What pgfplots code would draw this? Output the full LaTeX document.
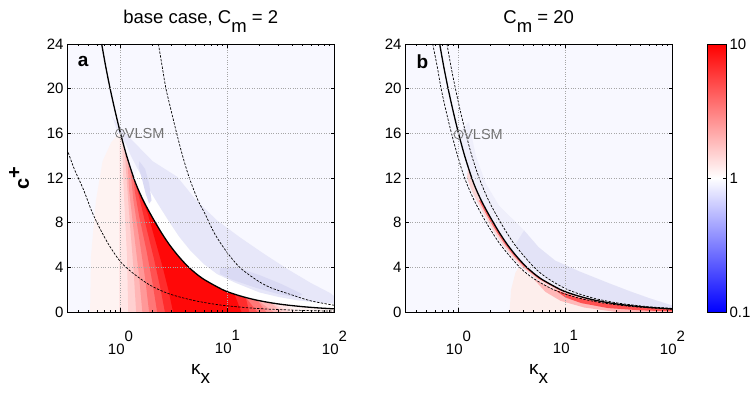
\documentclass[border=0pt]{standalone}
\usepackage{fontspec}
\setmainfont{Liberation Sans}
\usepackage{pgfplots}
\pgfplotsset{compat=1.18}
\definecolor{bgc}{HTML}{F8F8FF}
\definecolor{r0}{HTML}{FEF3F2}
\definecolor{l1}{HTML}{FFE6E6}
\definecolor{l2}{HTML}{FFD0D0}
\definecolor{l3}{HTML}{FFB6B6}
\definecolor{l4}{HTML}{FF9898}
\definecolor{l5}{HTML}{FF7777}
\definecolor{l6}{HTML}{FF5252}
\definecolor{l7}{HTML}{FF2C2C}
\definecolor{l8}{HTML}{FF0808}
\definecolor{b1}{HTML}{E7E7F9}
\definecolor{b2}{HTML}{DADAF4}
\definecolor{bb1}{HTML}{EFEFFB}
\definecolor{bb2}{HTML}{E3E3F7}
\definecolor{pb}{HTML}{FDEEEC}
\definecolor{rb1}{HTML}{FBD5D5}
\definecolor{rb2}{HTML}{FF6A6A}
\definecolor{rb3}{HTML}{FFB8B8}
\definecolor{rb4}{HTML}{FF5050}
\tikzset{curveS/.style={black, line width=1.3pt, smooth},
  curveD/.style={black, line width=0.7pt, dash pattern=on 2.4pt off 1.4pt, smooth}}
\pgfplotsset{mypanel/.style={
  anchor=south west, scale only axis, width=267.5pt, height=268pt,
  xmin=0.316228, xmax=100, ymin=0, ymax=24,
  xtick={1,10,100},
  xticklabels={10\raisebox{13pt}{0},10\raisebox{13pt}{1},10\raisebox{13pt}{2}},
  minor xtick={0.4,0.5,0.6,0.7,0.8,0.9,2,3,4,5,6,7,8,9,20,30,40,50,60,70,80,90},
  ytick={0,4,...,24},
  /pgf/number format/assume math mode=true,
  tick align=inside, major tick length=4pt, minor tick length=2.2pt,
  grid=major, major grid style={black!35, dotted, line width=0.5pt},
  axis background/.style={fill=bgc},
  axis on top,
  tick style={black, line width=0.5pt},
  axis line style={line width=0.6pt},
  ticklabel style={font=\fontsize{15}{17}\selectfont},
  xticklabel style={yshift=-15pt},
}}
\begin{document}
\begin{tikzpicture}
\path[use as bounding box] (0pt,0pt) rectangle (751pt,393pt);
% ---------------- panel a ----------------
\begin{semilogxaxis}[mypanel, at={(67pt,81pt)}]
\addplot[fill=r0, draw=none] coordinates {(0.52,0) (0.53,5) (0.59,10) (0.68,13.5) (0.82,15.2) (0.95,15.9) (1.0,16) (1.14,14) (1.33,12) (1.46,11) (1.63,10) (1.85,9) (2.12,8) (2.45,7) (2.88,6) (3.48,5) (4.35,4) (5.85,3) (9.0,2) (11.6,1.6) (14.8,1.3) (19.0,1.05) (25.6,0.82) (34,0.65) (50,0.48) (72,0.36) (100,0.28) (100,0)} -- cycle;
\addplot[fill=l1, draw=none] coordinates {(0.97,0) (0.97,10) (0.98,15.6) (1.0,16) (1.14,14) (1.33,12) (1.46,11) (1.63,10) (1.85,9) (2.12,8) (2.45,7) (2.88,6) (3.48,5) (4.35,4) (5.85,3) (9.0,2) (11.6,1.6) (14.8,1.3) (19.0,1.05) (25.6,0.82) (34,0.65) (45,0)} -- cycle;
\addplot[fill=l2, draw=none] coordinates {(1.18,0) (1.15,5) (1.07,11) (1.04,14.8) (1.14,14) (1.33,12) (1.46,11) (1.63,10) (1.85,9) (2.12,8) (2.45,7) (2.88,6) (3.48,5) (4.35,4) (5.85,3) (9.0,2) (11.6,1.6) (14.8,1.3) (19.0,1.05) (25.6,0.82) (38,0)} -- cycle;
\addplot[fill=l3, draw=none] coordinates {(1.4,0) (1.32,4) (1.2,9) (1.12,13) (1.1,14.2) (1.14,14) (1.33,12) (1.46,11) (1.63,10) (1.85,9) (2.12,8) (2.45,7) (2.88,6) (3.48,5) (4.35,4) (5.85,3) (9.0,2) (11.6,1.6) (14.8,1.3) (19.0,1.05) (25.6,0.82) (32,0)} -- cycle;
\addplot[fill=l4, draw=none] coordinates {(1.6,0) (1.48,3.5) (1.32,7.5) (1.2,11) (1.17,13.2) (1.33,12) (1.46,11) (1.63,10) (1.85,9) (2.12,8) (2.45,7) (2.88,6) (3.48,5) (4.35,4) (5.85,3) (9.0,2) (11.6,1.6) (14.8,1.3) (19.0,1.05) (27,0)} -- cycle;
\addplot[fill=l5, draw=none] coordinates {(1.85,0) (1.7,3) (1.5,6.5) (1.32,10) (1.25,12.3) (1.33,12) (1.46,11) (1.63,10) (1.85,9) (2.12,8) (2.45,7) (2.88,6) (3.48,5) (4.35,4) (5.85,3) (9.0,2) (11.6,1.6) (14.8,1.3) (19.0,1.05) (23,0)} -- cycle;
\addplot[fill=l6, draw=none] coordinates {(2.2,0) (2.0,2.5) (1.75,5.5) (1.5,8.5) (1.36,10.8) (1.33,11.9) (1.46,11) (1.63,10) (1.85,9) (2.12,8) (2.45,7) (2.88,6) (3.48,5) (4.35,4) (5.85,3) (9.0,2) (11.6,1.6) (14.8,1.3) (19,0)} -- cycle;
\addplot[fill=l7, draw=none] coordinates {(2.6,0) (2.35,2.2) (2.05,4.8) (1.75,7.5) (1.52,10) (1.41,11.2) (1.46,11) (1.63,10) (1.85,9) (2.12,8) (2.45,7) (2.88,6) (3.48,5) (4.35,4) (5.85,3) (9.0,2) (11.6,1.6) (14.8,1.3) (16,0)} -- cycle;
\addplot[fill=l8, draw=none] coordinates {(3.1,0) (2.8,2) (2.45,4.2) (2.1,6.5) (1.8,8.8) (1.5,10.6) (1.63,10) (1.85,9) (2.12,8) (2.45,7) (2.88,6) (3.48,5) (4.35,4) (5.85,3) (9.0,2) (11.6,1.6) (13.5,0)} -- cycle;
\addplot[fill=white, draw=none] coordinates {(1.45,12.8) (1.75,11.4) (2.2,9.8) (2.8,8.2) (3.5,6.8) (4.5,5.5) (6,4.3) (8,3.4) (12,2.6) (20,1.75) (30,1.35) (45,1.05) (70,0.85) (100,0.75) (100,0.28) (72,0.36) (50,0.48) (34,0.65) (25.6,0.82) (19.0,1.05) (14.8,1.3) (11.6,1.6) (9.0,2) (5.85,3) (4.35,4) (3.48,5) (2.88,6) (2.45,7) (2.12,8) (1.85,9) (1.63,10) (1.46,11) (1.33,12)} -- cycle;
\addplot[fill=b1, draw=none] coordinates {(0.82,17.6) (1.06,16.2) (2.0,13.5) (3.4,12.1) (5.1,10) (8,8.2) (13,6.7) (22,5.2) (37,3.8) (60,2.6) (91,1.7) (100,1.4) (100,0.75) (70,0.85) (45,1.05) (30,1.35) (20,1.75) (12,2.6) (8,3.4) (6,4.3) (4.5,5.5) (3.5,6.8) (2.8,8.2) (2.2,9.8) (1.75,11.4) (1.45,12.8) (1.25,14) (1.13,15) (1.02,15.6) (0.92,16.4) (0.86,17.2)} -- cycle;
\addplot[fill=b2, draw=none] coordinates {(1.5,13.5) (1.7,12.8) (1.85,11.5) (1.95,10) (1.85,9.7) (1.72,10.6) (1.6,11.8) (1.48,13)} -- cycle;
\addplot[fill=b2, draw=none] coordinates {(8.5,3.9) (12,4.0) (20,3.3) (32,2.5) (50,1.6) (45,1.3) (30,1.6) (18,2.2) (11,2.9) (8.5,3.4)} -- cycle;
% curves
\addplot[curveD] coordinates {(0.316,14.6) (0.37,12.8) (0.449,11.0) (0.54,9.0) (0.64,7.5) (0.78,6.0) (1.0,4.5) (1.3,3.5) (1.89,2.4) (2.8,1.65) (4.5,1.1) (7,0.75) (10,0.55) (20,0.3) (50,0.14) (100,0.08)};
\addplot[curveD] coordinates {(2.26,24) (2.45,22) (2.66,20) (2.98,18) (3.35,16) (3.8,14) (4.4,12) (5.3,10) (6.16,8.8) (7.6,7) (9.8,5.4) (13,4) (18.7,2.86) (25,2.2) (38,1.6) (60,1.0) (100,0.6)};
\addplot[curveS] coordinates {(0.667,24) (0.727,22) (0.80,20) (0.89,18) (1.0,16) (1.14,14) (1.33,12) (1.46,11) (1.63,10) (1.85,9) (2.12,8) (2.45,7) (2.88,6) (3.48,5) (4.35,4) (5.85,3) (9.0,2) (11.6,1.6) (14.8,1.3) (19.0,1.05) (25.6,0.82) (34,0.65) (50,0.48) (72,0.36) (100,0.28)};
\addplot[only marks, mark=o, mark size=4.5pt, black!55, mark options={line width=0.8pt}] coordinates {(0.99,16)};
\node[anchor=west, text=black!55, font=\fontsize{14.5}{14.5}\selectfont, inner sep=1pt] at (axis cs:1.07,16) {VLSM};
\node[font=\bfseries\fontsize{19}{19}\selectfont] at (rel axis cs:0.06,0.933) {a};
\end{semilogxaxis}
% ---------------- panel b ----------------
\begin{semilogxaxis}[mypanel, at={(405pt,81pt)}]
\addplot[fill=pb, draw=none] coordinates {(3.0,0) (3.1,2) (3.4,3.5) (3.66,4) (4.99,3) (7.9,2) (12.9,1.3) (22.4,0.82) (30,0)} -- cycle;
\addplot[fill=bb1, draw=none] coordinates {(1.0,16) (1.14,14) (1.33,12) (1.46,11) (1.63,10) (1.85,9) (2.12,8) (2.45,7) (2.88,6) (3.48,5) (4.35,4) (5.85,3) (9.0,2) (11.6,1.6) (14.8,1.3) (19.0,1.05) (25.6,0.82) (34,0.65) (50,0.48) (72,0.36) (100,0.28) (100,0.6) (94,0.65) (60,1.25) (40,1.85) (25,2.6) (13.7,3.6) (8,4.6) (5.6,5.8) (4.1,7.3) (3.3,8.2) (2.4,9.5) (1.8,11.5) (1.45,14) (1.25,17)} -- cycle;
\addplot[fill=bb2, draw=none] coordinates {(3.37,6) (5.09,4) (6.84,3) (10.5,2) (17.3,1.3) (30,0.82) (58.5,0.48) (100,0.33) (100,0.6) (94,0.65) (60,1.25) (40,1.85) (25,2.6) (13.7,3.6) (8,4.6) (5.6,5.8) (4.1,7.3)} -- cycle;
\addplot[fill=rb1, draw=none] coordinates {(1.23,13) (1.33,12) (1.46,11) (1.63,10) (1.85,9) (2.12,8) (2.45,7) (2.88,6) (3.48,5) (4.35,4) (5.85,3) (9.0,2) (11.6,1.6) (14.8,1.3) (19.0,1.05) (25.6,0.82) (34,0.65) (50,0.48) (72,0.36) (100,0.28) (100,0.26) (90,0.28) (64.8,0.36) (45,0.48) (30.6,0.65) (23,0.82) (17.1,1.05) (13.3,1.3) (10.4,1.6) (8.1,2) (5.27,3) (3.92,4) (3.13,5) (2.59,6) (2.2,7) (1.91,8) (1.67,9) (1.47,10) (1.31,11) (1.2,12)} -- cycle;
\addplot[fill=rb3, draw=none] coordinates {(4.99,3) (7.9,2) (12.9,1.3) (22.4,0.82) (43,0.48) (86,0.28) (100,0.24) (100,0) (30,0) (15,0.4) (9,1.0) (6.5,1.8)} -- cycle;
\addplot[fill=rb4, draw=none] coordinates {(7.9,2) (12.9,1.3) (22.4,0.82) (43,0.48) (86,0.28) (100,0.24) (100,0.05) (50,0.15) (25,0.35) (14,0.8) (10,1.3)} -- cycle;
\addplot[fill=rb2, draw=none] coordinates {(1.63,10) (1.85,9) (2.12,8) (2.45,7) (2.88,6) (3.48,5) (4.35,4) (5.85,3) (9.0,2) (11.6,1.6) (14.8,1.3) (19.0,1.05) (25.6,0.82) (34,0.65) (50,0.48) (72,0.36) (100,0.28) (100,0.27) (95,0.28) (68.4,0.36) (47.5,0.48) (32.3,0.65) (24.3,0.82) (18,1.05) (14.1,1.3) (11,1.6) (8.55,2) (5.56,3) (4.13,4) (3.31,5) (2.74,6) (2.33,7) (2.01,8) (1.76,9) (1.55,10)} -- cycle;
% curves
\addplot[curveD] coordinates {(0.574,24) (0.632,22) (0.688,20) (0.765,18) (0.86,16) (0.98,14) (1.14,12) (1.40,10) (1.82,8) (2.48,6) (3.74,4) (5.03,3) (7.74,2) (12.7,1.3) (22,0.82) (43,0.48) (86,0.28) (100,0.24)};
\addplot[curveD] coordinates {(0.78,24) (0.85,22) (0.936,20) (1.04,18) (1.17,16) (1.33,14) (1.56,12) (1.91,10) (2.48,8) (3.37,6) (5.09,4) (6.84,3) (10.5,2) (17.3,1.3) (30,0.82) (58.5,0.48) (100,0.33)};
\addplot[curveS] coordinates {(0.667,24) (0.727,22) (0.80,20) (0.89,18) (1.0,16) (1.14,14) (1.33,12) (1.46,11) (1.63,10) (1.85,9) (2.12,8) (2.45,7) (2.88,6) (3.48,5) (4.35,4) (5.85,3) (9.0,2) (11.6,1.6) (14.8,1.3) (19.0,1.05) (25.6,0.82) (34,0.65) (50,0.48) (72,0.36) (100,0.28)};
\addplot[only marks, mark=o, mark size=4.5pt, black!55, mark options={line width=0.8pt}] coordinates {(1.0,15.9)};
\node[anchor=west, text=black!55, font=\fontsize{14.5}{14.5}\selectfont, inner sep=1pt] at (axis cs:1.08,15.9) {VLSM};
\node[font=\bfseries\fontsize{19}{19}\selectfont] at (rel axis cs:0.065,0.933) {b};
\end{semilogxaxis}
% ---------------- colorbar ----------------
\begin{axis}[anchor=south west, at={(707.7pt,81pt)}, scale only axis, width=18.3pt, height=268pt,
  xmin=0, xmax=1, ymin=-1, ymax=1, xtick=\empty,
  ytick={-1,0,1}, yticklabels={0.1,1,10}, yticklabel pos=right, ytick pos=both,
  tick align=inside, major tick length=3pt, tick style={black, line width=0.5pt},
  axis line style={line width=0.6pt}, axis on top,
  ticklabel style={font=\fontsize{15}{17}\selectfont},
  colormap={bwr}{rgb255=(0,0,255) rgb255=(255,255,255) rgb255=(255,0,0)},
  point meta min=-1, point meta max=1]
\addplot[surf, shader=interp, point meta=y] coordinates {
(0,-1) (1,-1)

(0,0) (1,0)

(0,1) (1,1)
};
\end{axis}
% ---------------- titles and labels ----------------
\node[anchor=base, font=\fontsize{18.5}{18.5}\selectfont] at (200.7pt,369.7pt) {base case, C\raisebox{-9pt}{m} = 2};
\node[anchor=base, font=\fontsize{18.5}{18.5}\selectfont] at (538.7pt,369.7pt) {C\raisebox{-9pt}{m} = 20};
\node[rotate=90, font=\bfseries\fontsize{20}{20}\selectfont] at (19pt,215pt) {c\raisebox{8pt}{+}};
\node[anchor=base, font=\fontsize{19}{19}\selectfont] at (200.7pt,19pt) {κ\raisebox{-9pt}{x}};
\node[anchor=base, font=\fontsize{19}{19}\selectfont] at (538.7pt,19pt) {κ\raisebox{-9pt}{x}};
\end{tikzpicture}
\end{document}
